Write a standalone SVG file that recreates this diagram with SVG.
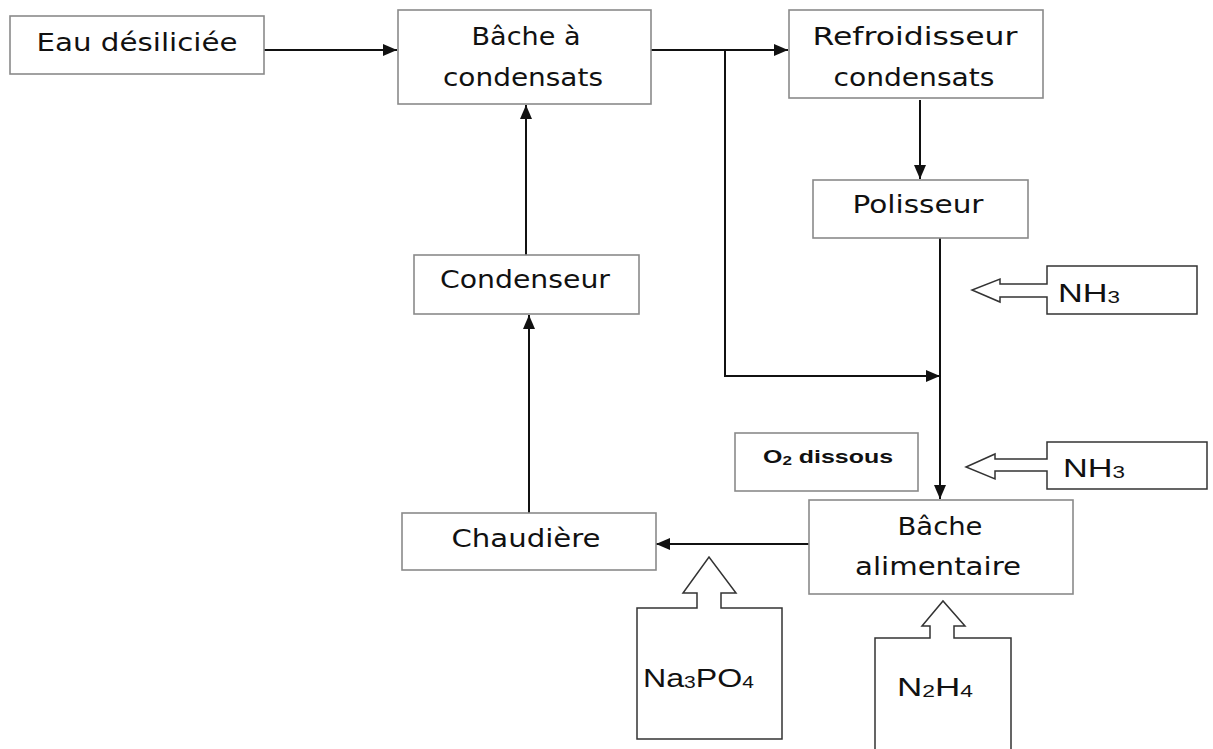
<svg xmlns="http://www.w3.org/2000/svg" width="1213" height="749" viewBox="0 0 1213 749">
<style>
.box{fill:#fff;stroke:#8a8a8a;stroke-width:1.6}
.blk{fill:#fff;stroke:#333;stroke-width:1.5}
.lbl{font-family:"DejaVu Sans","Liberation Sans",sans-serif;font-size:24px;fill:#111;text-anchor:middle}
.chem{font-family:"Liberation Sans",Arial,sans-serif;font-size:26px;fill:#111}
.con{fill:none;stroke:#111;stroke-width:2}
</style>
<defs>
<marker id="ah" markerUnits="userSpaceOnUse" markerWidth="14" markerHeight="12" viewBox="0 0 14 12" refX="14" refY="6" orient="auto">
<path d="M0,0 L14,6 L0,12 Z" fill="#111"/>
</marker>
</defs>
<rect width="1213" height="749" fill="#fff"/>
<g id="connectors">
<line class="con" x1="264" y1="50" x2="397" y2="50" marker-end="url(#ah)"/>
<line class="con" x1="651" y1="50" x2="788" y2="50" marker-end="url(#ah)"/>
<polyline class="con" points="725,50 725,376 940,376" marker-end="url(#ah)"/>
<line class="con" x1="920" y1="100" x2="920" y2="179" marker-end="url(#ah)"/>
<line class="con" x1="940" y1="238" x2="940" y2="499" marker-end="url(#ah)"/>
<line class="con" x1="809" y1="544" x2="656" y2="544" marker-end="url(#ah)"/>
<line class="con" x1="529" y1="513" x2="529" y2="315" marker-end="url(#ah)"/>
<line class="con" x1="526" y1="255" x2="526" y2="105" marker-end="url(#ah)"/>
</g>
<g id="eau">
<rect class="box" x="10" y="16" width="254" height="58"/>
<text class="lbl" x="137" y="51" textLength="201" lengthAdjust="spacingAndGlyphs">Eau désiliciée</text>
</g>
<g id="bache-condensats">
<rect class="box" x="398" y="10" width="253" height="94"/>
<text class="lbl" x="526" y="45" textLength="109" lengthAdjust="spacingAndGlyphs">Bâche à</text>
<text class="lbl" x="523" y="86" textLength="160" lengthAdjust="spacingAndGlyphs">condensats</text>
</g>
<g id="refroidisseur">
<rect class="box" x="789" y="10" width="254" height="88"/>
<text class="lbl" x="915" y="45" textLength="205" lengthAdjust="spacingAndGlyphs">Refroidisseur</text>
<text class="lbl" x="914" y="86" textLength="161" lengthAdjust="spacingAndGlyphs">condensats</text>
</g>
<g id="polisseur">
<rect class="box" x="813" y="180" width="215" height="58"/>
<text class="lbl" x="918" y="213" textLength="131" lengthAdjust="spacingAndGlyphs">Polisseur</text>
</g>
<g id="condenseur">
<rect class="box" x="414" y="255" width="225" height="59"/>
<text class="lbl" x="525" y="288" textLength="170" lengthAdjust="spacingAndGlyphs">Condenseur</text>
</g>
<g id="chaudiere">
<rect class="box" x="402" y="513" width="254" height="57"/>
<text class="lbl" x="526" y="547" textLength="149" lengthAdjust="spacingAndGlyphs">Chaudière</text>
</g>
<g id="bache-alimentaire">
<rect class="box" x="809" y="500" width="264" height="94"/>
<text class="lbl" x="940" y="535" textLength="85" lengthAdjust="spacingAndGlyphs">Bâche</text>
<text class="lbl" x="938" y="575" textLength="166" lengthAdjust="spacingAndGlyphs">alimentaire</text>
</g>
<g id="o2-dissous">
<rect class="box" x="735" y="433" width="183" height="58"/>
<text x="763" y="463" font-family="Liberation Sans,Arial,sans-serif" font-weight="bold" font-size="19" fill="#111" textLength="130" lengthAdjust="spacingAndGlyphs">O<tspan font-size="13" dy="2">2</tspan><tspan dy="-2"> dissous</tspan></text>
</g>
<g id="nh3-1">
<path class="blk" d="M1047,284 L1047,266 L1197,266 L1197,314 L1047,314 L1047,297 L1000,297 L1000,302 L972,290 L1000,279 L1000,284 Z"/>
<text class="chem" x="1058" y="302" textLength="62" lengthAdjust="spacingAndGlyphs">NH<tspan font-size="17" dy="1">3</tspan></text>
</g>
<g id="nh3-2">
<path class="blk" d="M1047,459 L1047,442 L1207,442 L1207,489 L1047,489 L1047,471 L995,471 L995,479 L966,467 L995,454 L995,459 Z"/>
<text class="chem" x="1063" y="477" textLength="62" lengthAdjust="spacingAndGlyphs">NH<tspan font-size="17" dy="1">3</tspan></text>
</g>
<g id="na3po4">
<path class="blk" d="M697,608 L637,608 L637,739 L782,739 L782,608 L721,608 L721,593 L736,593 L709,557 L683,593 L697,593 Z"/>
<text class="chem" x="643" y="687" textLength="111" lengthAdjust="spacingAndGlyphs">Na<tspan font-size="17" dy="1">3</tspan><tspan dy="-1">PO</tspan><tspan font-size="17" dy="1">4</tspan></text>
</g>
<g id="n2h4">
<path class="blk" d="M930,638 L875,638 L875,760 L1011,760 L1011,638 L954,638 L954,626 L965,626 L943,601 L922,626 L930,626 Z"/>
<text class="chem" x="897" y="696" textLength="76" lengthAdjust="spacingAndGlyphs">N<tspan font-size="17" dy="1">2</tspan><tspan dy="-1">H</tspan><tspan font-size="17" dy="1">4</tspan></text>
</g>
</svg>
